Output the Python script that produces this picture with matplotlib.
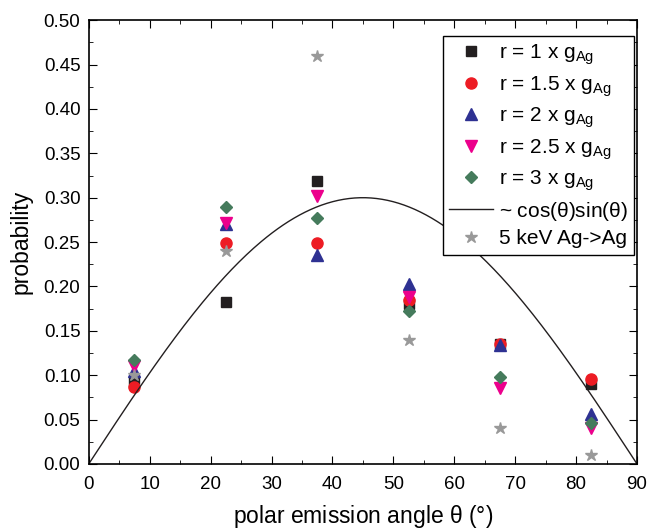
import numpy as np
import matplotlib
matplotlib.use('Agg')
import matplotlib.pyplot as plt
from matplotlib.ticker import MultipleLocator

plt.rcParams['font.family'] = ['Liberation Sans', 'DejaVu Sans']

# 数据
angles = [7.5, 22.5, 37.5, 52.5, 67.5, 82.5]
r1 = [0.092, 0.182, 0.319, 0.180, 0.135, 0.090]
r15 = [0.087, 0.249, 0.249, 0.185, 0.135, 0.096]
r2 = [0.105, 0.270, 0.235, 0.203, 0.134, 0.056]
r25 = [0.110, 0.272, 0.302, 0.188, 0.085, 0.040]
r3 = [0.117, 0.290, 0.277, 0.172, 0.098, 0.046]
sim = [0.100, 0.240, 0.460, 0.140, 0.040, 0.010]
curve_amp = 0.6

fig = plt.figure(figsize=(6.48, 5.32), dpi=100)
ax = fig.add_axes([0.137, 0.128, 0.846, 0.834])

ms = 7
ax.plot(angles, r1, 's', color='#231f20', ms=ms, label=r'r = 1 x g$_{\mathregular{Ag}}$')
ax.plot(angles, r15, 'o', color='#ed1c24', ms=ms + 1, label=r'r = 1.5 x g$_{\mathregular{Ag}}$')
ax.plot(angles, r2, '^', color='#2e3192', ms=ms + 1, label=r'r = 2 x g$_{\mathregular{Ag}}$')
ax.plot(angles, r25, 'v', color='#ec008c', ms=ms + 1, label=r'r = 2.5 x g$_{\mathregular{Ag}}$')
ax.plot(angles, r3, 'D', color='#457b5c', ms=ms - 0.5, label=r'r = 3 x g$_{\mathregular{Ag}}$')

theta = np.linspace(0, 90, 300)
ax.plot(theta, curve_amp * np.cos(np.radians(theta)) * np.sin(np.radians(theta)),
        color='#231f20', lw=1, label=r'~ cos($\mathregular{\theta}$)sin($\mathregular{\theta}$)')
ax.plot(angles, sim, '*', color='#999999', ms=ms + 2, label='5 keV Ag->Ag')

ax.set_xlim(0, 90)
ax.set_ylim(0, 0.5)
ax.xaxis.set_major_locator(MultipleLocator(10))
ax.xaxis.set_minor_locator(MultipleLocator(5))
ax.yaxis.set_major_locator(MultipleLocator(0.05))
ax.yaxis.set_minor_locator(MultipleLocator(0.025))
ax.yaxis.set_major_formatter(matplotlib.ticker.FormatStrFormatter('%.2f'))
ax.tick_params(which='both', direction='in', top=True, right=True, labelsize=13.5, pad=6)
ax.tick_params(axis='x', which='both', pad=9)
ax.tick_params(which='major', length=6)
ax.tick_params(which='minor', length=3)
for s in ax.spines.values():
    s.set_linewidth(1.2)

ax.set_xlabel(r'polar emission angle $\mathregular{\theta}$ (°)', fontsize=16.5, labelpad=7)
ax.set_ylabel('probability', fontsize=16.5, labelpad=8)

leg = ax.legend(loc='upper right', bbox_to_anchor=(0.995, 0.964), fontsize=15,
                frameon=True, fancybox=False, edgecolor='black', framealpha=1,
                borderaxespad=0, handlelength=2.1, handletextpad=0.3,
                labelspacing=0.32, borderpad=0.3)
leg.get_frame().set_linewidth(1)

plt.savefig('out.png', dpi=100)
